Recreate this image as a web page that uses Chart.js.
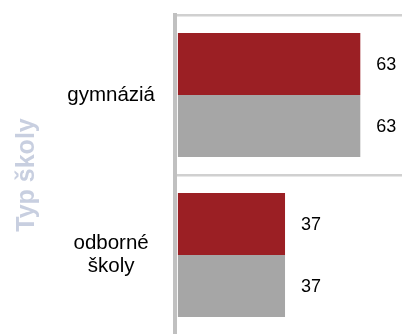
<!DOCTYPE html>
<html>
<head>
<meta charset="utf-8">
<script src="https://cdn.jsdelivr.net/npm/chart.js@4"></script>
<style>
  html, body { margin: 0; padding: 0; background: #fff; overflow: hidden; }
</style>
</head>
<body>
<canvas id="chart" width="402" height="335"></canvas>
<script>
const categories = ['gymnáziá', ['odborné', 'školy']];
const seriesRed = [63, 37];
const seriesGray = [63, 37];

// hodnoty vpravo od konca stĺpca
const valueLabels = {
  id: 'valueLabels',
  afterDatasetsDraw(chart) {
    const ctx = chart.ctx;
    ctx.save();
    ctx.font = '18px "Liberation Sans", Arial, sans-serif';
    ctx.fillStyle = '#000';
    ctx.textAlign = 'left';
    ctx.textBaseline = 'middle';
    chart.data.datasets.forEach((ds, i) => {
      chart.getDatasetMeta(i).data.forEach((bar, j) => {
        ctx.fillText(String(ds.data[j]), bar.x + 16, bar.y + 1);
      });
    });
    ctx.restore();
  }
};

new Chart(document.getElementById('chart'), {
  type: 'bar',
  data: {
    labels: categories,
    datasets: [
      { label: 'A', data: seriesRed, backgroundColor: '#9b1f24' },
      { label: 'B', data: seriesGray, backgroundColor: '#a6a6a6' }
    ]
  },
  options: {
    indexAxis: 'y',
    responsive: false,
    devicePixelRatio: 1,
    animation: false,
    layout: { padding: { top: 15, right: 0, bottom: 0, left: 0 } },
    datasets: { bar: { categoryPercentage: 0.775, barPercentage: 1 } },
    plugins: { legend: { display: false }, tooltip: { enabled: false } },
    scales: {
      x: {
        display: false,
        min: -1,
        max: 77.4
      },
      y: {
        afterFit: s => {
          s.width = 175;
          s.paddingTop = 0;
          s.paddingBottom = 0;
        },
        grid: {
          color: c => (c.index >= 2 ? 'rgba(0,0,0,0)' : '#d0d0d0'),
          lineWidth: 2.5,
          drawTicks: false
        },
        border: { color: '#c0c0c0', width: 4, z: 1 },
        ticks: {
          color: '#000',
          padding: 20,
          crossAlign: 'center',
          font: { family: '"Liberation Sans", Arial, sans-serif', size: 20.5, lineHeight: 1.12 }
        },
        title: {
          display: true,
          text: 'Typ školy',
          color: '#c8cfe0',
          padding: { top: 12, bottom: 0 },
          font: { family: '"Liberation Sans", Arial, sans-serif', size: 25, weight: 'bold', lineHeight: 1.2 }
        }
      }
    }
  },
  plugins: [valueLabels]
});
</script>
</body>
</html>
